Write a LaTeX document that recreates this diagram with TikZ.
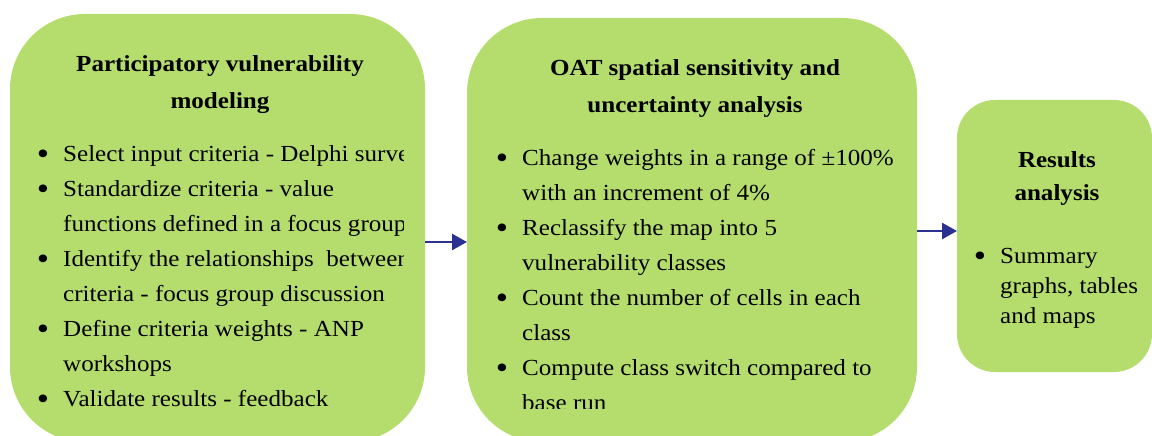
\documentclass[tikz,border=0pt]{standalone}
\usepackage{fontspec}
\setmainfont{Liberation Serif}[FakeStretch=1.09]
\usetikzlibrary{arrows.meta}
\definecolor{boxgreen}{RGB}{181,221,110}
\definecolor{arrowblue}{RGB}{43,49,145}
\newcommand\bulmark{\llap{\raisebox{-3pt}{\scalebox{1.4}{\textbullet}}\hspace{14pt}}}
\begin{document}
\begin{tikzpicture}[x=1pt,y=-1pt,
  stagebox/.style={fill=boxgreen, draw=none, rounded corners=#1, anchor=north west, inner sep=0pt, outer sep=0pt},
  txt/.style={anchor=base west, inner sep=0pt, font=\fontsize{23pt}{27pt}\selectfont},
  ttl/.style={anchor=base, inner sep=0pt, font=\bfseries\fontsize{23pt}{27pt}\selectfont},
  flow/.style={draw=arrowblue, line width=2.5pt, -{Triangle[length=15pt,width=16pt]}}]
\useasboundingbox (0,0) rectangle (1152,436);
\clip (0,0) rectangle (1152,436);
% boxes
\node[stagebox=75pt, minimum width=415pt, minimum height=428pt] (b1) at (10,14) {};
\node[stagebox=75pt, minimum width=450pt, minimum height=424pt] (b2) at (467,18) {};
\node[stagebox=38pt, minimum width=195pt, minimum height=272pt] (b3) at (957,100) {};
% arrows
\draw[flow] (b1.east |- 0,242) -- (b2.west |- 0,242);
\draw[flow] (b2.east |- 0,231) -- (b3.west |- 0,231);
% box 1 text
\node[ttl] (t1a) at (220,71) {Participatory vulnerability};
\node[ttl] (t1b) at (220,108) {modeling};
\begin{scope}
\clip (10,0) rectangle (403,436);
\node[txt] (a1) at (63,161) {\bulmark Select input criteria - Delphi survey};
\node[txt] (a2) at (63,196) {\bulmark Standardize criteria - value};
\node[txt] (a3) at (63,231) {functions defined in a focus group};
\node[txt] (a4) at (63,266) {\bulmark Identify the relationships\ \ between};
\node[txt] (a5) at (63,301) {criteria - focus group discussion};
\node[txt] (a6) at (63,336) {\bulmark Define criteria weights - ANP};
\node[txt] (a7) at (63,371) {workshops};
\node[txt] (a8) at (63,406) {\bulmark Validate results - feedback};
\end{scope}
% box 2 text
\node[ttl] (t2a) at (695,76) {OAT spatial sensitivity and};
\node[ttl] (t2b) at (695,113) {uncertainty analysis};
\begin{scope}
\clip (467,0) rectangle (917,408);
\node[txt] (c1) at (522,165) {\bulmark Change weights in a range of ±100\%};
\node[txt] (c2) at (522,200) {with an increment of 4\%};
\node[txt] (c3) at (522,235) {\bulmark Reclassify the map into 5};
\node[txt] (c4) at (522,270) {vulnerability classes};
\node[txt] (c5) at (522,305) {\bulmark Count the number of cells in each};
\node[txt] (c6) at (522,340) {class};
\node[txt] (c7) at (522,375) {\bulmark Compute class switch compared to};
\node[txt] (c8) at (522,410) {base run};
\end{scope}
% box 3 text
\node[ttl] (t3a) at (1057,167) {Results};
\node[ttl] (t3b) at (1057,200) {analysis};
\node[txt] (e1) at (1000,263) {\bulmark Summary};
\node[txt] (e2) at (1000,293) {graphs, tables};
\node[txt] (e3) at (1000,323) {and maps};
\end{tikzpicture}
\end{document}
